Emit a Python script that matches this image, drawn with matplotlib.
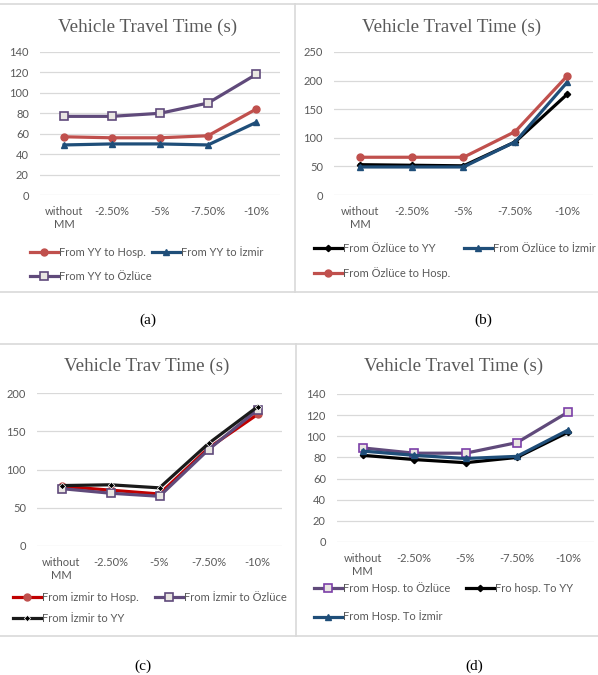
import matplotlib.pyplot as plt
from matplotlib.lines import Line2D

plt.rcParams['font.family'] = ['Lato', 'DejaVu Sans']

categories = ['without\nMM', '-2.50%', '-5%', '-7.50%', '-10%']

# (a) from YY
a_hosp = [57, 56, 56, 58, 84]
a_izmir = [49, 50, 50, 49, 71]
a_ozluce = [77, 77, 80, 90, 118]

# (b) from Özlüce
b_yy = [53, 52, 51, 93, 176]
b_izmir = [49, 49, 49, 93, 197]
b_hosp = [66, 66, 66, 111, 208]

# (c) from İzmir
c_hosp = [78, 73, 68, 128, 172]
c_ozluce = [75, 69, 65, 126, 178]
c_yy = [79, 80, 76, 134, 182]

# (d) from Hosp.
d_ozluce = [89, 84, 84, 94, 123]
d_yy = [82, 78, 75, 80, 104]
d_izmir = [86, 82, 79, 81, 106]

W, H = 598, 675
fig = plt.figure(figsize=(W / 100, H / 100), dpi=100)

RED = '#C0504D'
BLUE = '#1F4E79'
PURPLE = '#604A7B'
GREY = '#595959'


def px_axes(x0, x1, ytop, ybot):
    return fig.add_axes([x0 / W, 1 - ybot / H, (x1 - x0) / W, (ybot - ytop) / H])


def style(key):
    if key == 'red':
        return dict(color=RED, marker='o', ms=5, mfc=RED, mec=RED)
    if key == 'pure_red':
        return dict(color='#C00000', marker='o', ms=5, mfc=RED, mec=RED)
    if key == 'blue':
        return dict(color=BLUE, marker='^', ms=5, mfc=BLUE, mec=BLUE)
    if key == 'purple':
        return dict(color=PURPLE, marker='s', ms=6, mfc='#E9E6E2', mec=PURPLE, mew=1.2)
    if key == 'purple2':
        return dict(color=PURPLE, marker='s', ms=6, mfc='#E9E6E2', mec='#7B3FA8', mew=1.2)
    if key == 'black':
        return dict(color='#000000', marker='D', ms=3.2, mfc='#000000', mec='#000000')
    if key == 'black2':
        return dict(color='#1A1A1A', marker='D', ms=3.2, mfc='#000000', mec='#FFFFFF', mew=0.5)


def panel(box, ymax, ystep, series, title, tcx, tcy, leg_x, leg_y, colsp, rowsp):
    ax = px_axes(*box)
    x = range(len(categories))
    handles = []
    for vals, key, label in series:
        ln, = ax.plot(x, vals, lw=2.3, label=label, zorder=3, **style(key))
        handles.append(ln)
    ax.set_xlim(-0.5, len(categories) - 0.5)
    ax.set_ylim(0, ymax)
    ax.set_yticks(range(0, ymax + 1, ystep))
    ax.set_xticks(list(x))
    ax.set_xticklabels(categories, linespacing=1.25)
    ax.tick_params(length=0, labelsize=8, labelcolor=GREY)
    ax.tick_params(axis='y', pad=8)
    ax.tick_params(axis='x', pad=8)
    ax.grid(axis='y', color='#D9D9D9', lw=0.9)
    ax.set_axisbelow(True)
    for s in ax.spines.values():
        s.set_visible(False)
    fig.text(tcx / W, 1 - tcy / H, title, family='Liberation Serif', fontsize=13.7,
             color=GREY, ha='center', va='center')
    # legend ordered row-wise like the original: e1 e2 / e3
    order = [handles[0], handles[2], handles[1]]
    fig.legend(order, [h.get_label() for h in order], ncol=2,
               loc='upper left', bbox_to_anchor=(leg_x / W, 1 - leg_y / H),
               frameon=False, fontsize=8, labelcolor=GREY, handlelength=2.5,
               handletextpad=0.12, columnspacing=colsp, labelspacing=rowsp,
               borderpad=0, borderaxespad=0, numpoints=1)
    return ax


panel((40, 280, 52, 195), 140, 20,
      [(a_hosp, 'red', 'From YY to Hosp.'),
       (a_izmir, 'blue', 'From YY to İzmir'),
       (a_ozluce, 'purple', 'From YY to Özlüce')],
      'Vehicle Travel Time (s)', 148, 27, 30, 247, 0.0, 1.15)

panel((334, 593, 52, 195), 250, 50,
      [(b_yy, 'black', 'From Özlüce to YY'),
       (b_izmir, 'blue', 'From Özlüce to İzmir'),
       (b_hosp, 'red', 'From Özlüce to Hosp.')],
      'Vehicle Travel Time (s)', 452, 27, 314, 243, 1.25, 1.15)

panel((37, 282, 393, 546), 200, 50,
      [(c_hosp, 'pure_red', 'From izmir to Hosp.'),
       (c_ozluce, 'purple', 'From İzmir to Özlüce'),
       (c_yy, 'black2', 'From İzmir to YY')],
      'Vehicle Trav Time (s)', 147, 366, 13, 592, 1.45, 0.88)

panel((337, 594, 394, 542), 140, 20,
      [(d_ozluce, 'purple2', 'From Hosp. to Özlüce'),
       (d_yy, 'black', 'Fro hosp. To YY'),
       (d_izmir, 'blue', 'From Hosp. To İzmir')],
      'Vehicle Travel Time (s)', 454, 366, 314, 582, 1.4, 1.5)

# panel frames
frame = dict(color='#D9D9D9', lw=1.2, transform=fig.transFigure)
for (x0, x1, y) in [(0, 598, 4), (0, 598, 292), (0, 598, 344), (0, 598, 636)]:
    fig.add_artist(Line2D([x0 / W, x1 / W], [1 - y / H, 1 - y / H], **frame))
for (x, y0, y1) in [(295, 4, 292), (296, 344, 636)]:
    fig.add_artist(Line2D([x / W, x / W], [1 - y0 / H, 1 - y1 / H], **frame))

for lbl, cx, cy in [('(a)', 148, 320), ('(b)', 483, 320), ('(c)', 143, 666), ('(d)', 474, 666)]:
    fig.text(cx / W, 1 - cy / H, lbl, family='Liberation Serif', fontsize=11,
             color='black', ha='center', va='center')

fig.savefig('out.png', dpi=100)
